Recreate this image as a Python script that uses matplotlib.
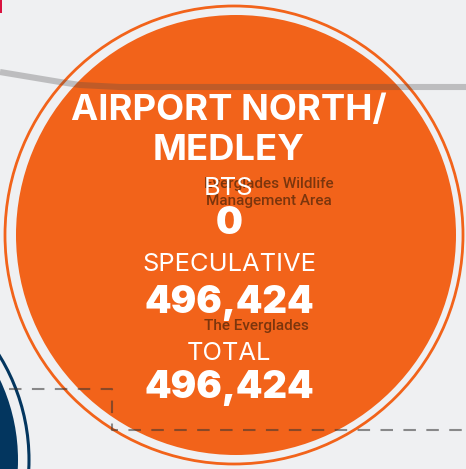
import matplotlib
matplotlib.use("Agg")
import matplotlib.pyplot as plt
from matplotlib.patches import Circle, Rectangle

title_lines = ["AIRPORT NORTH/", "MEDLEY"]
metric_names = ["BTS", "SPECULATIVE", "TOTAL"]
metric_values = [0, 496424, 496424]
map_labels = ["Everglades Wildlife", "Management Area", "The Everglades"]

road_x = [0, 30, 60, 80, 120, 233, 466]
road_y = [72, 77, 82, 85, 87, 87, 87]
leader_x = [9, 112, 112, 466]
leader_y = [389, 389, 430, 430]

W, H = 466, 469
BG = "#eff0f2"
ORANGE = "#f2631a"
NAVY = "#03365f"

fig = plt.figure(figsize=(W / 100, H / 100), dpi=100, facecolor=BG)
ax = fig.add_axes([0, 0, 1, 1])
ax.set_xlim(0, W)
ax.set_ylim(H, 0)
ax.axis("off")

ax.add_patch(Rectangle((0, 0), 1.5, 13, fc="#d9123f", ec="none", zorder=1))

# main and neighbouring bubbles
ax.add_patch(Circle((-170, 460), 199, fc="none", ec=NAVY, lw=2.2, zorder=1))
ax.add_patch(Circle((-170, 460), 188, fc=NAVY, ec="none", zorder=1))
ax.add_patch(Circle((234, 235), 229, fc="none", ec=ORANGE, lw=2.0, zorder=2))
ax.add_patch(Circle((236, 235), 220, fc=ORANGE, ec="none", zorder=2))

# overlays
ax.plot(road_x, road_y, color="#4a4a4a", alpha=0.30, lw=4.4, solid_capstyle="butt", zorder=3)
ax.plot(leader_x, leader_y, color="#333333", alpha=0.55, lw=1.5,
        dashes=(6.0, 5.0), zorder=3)

def px(size):
    return size * 0.72

label_kw = dict(family="Roboto", color="#4d2408", alpha=0.72,
                weight="medium", ha="left", va="baseline", zorder=4)
ax.text(204, 188, map_labels[0], fontsize=px(15.3), **label_kw)
ax.text(206, 205, map_labels[1], fontsize=px(15.3), **label_kw)
ax.text(204, 330, map_labels[2], fontsize=px(15.3), **label_kw)

head_kw = dict(family="Inter", color="white", weight="bold", ha="center", va="baseline", zorder=5)
ax.text(229, 120, title_lines[0], fontsize=px(36.5), **head_kw)
ax.text(229, 160, title_lines[1], fontsize=px(36.5), **head_kw)

name_kw = dict(family="Inter", color="white", weight="normal", ha="center", va="baseline", zorder=5)
value_kw = dict(family="Inter", color="white", weight="black", ha="center", va="baseline", zorder=5)
name_y = [195, 271, 360]
value_y = [234, 313, 398]
for name, val, ny, vy in zip(metric_names, metric_values, name_y, value_y):
    ax.text(229, ny, name, fontsize=px(25.5), **name_kw)
    ax.text(229, vy, f"{val:,}", fontsize=px(38), **value_kw)

fig.savefig("out.png", dpi=100, facecolor=BG)
